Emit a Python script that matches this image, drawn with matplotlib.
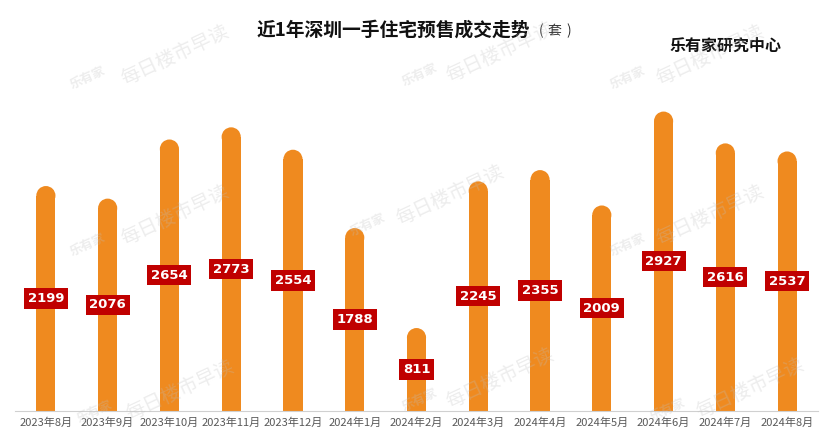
import numpy as np
import matplotlib.pyplot as plt
from matplotlib.patches import Ellipse

plt.rcParams['font.family'] = ['Noto Sans CJK SC', 'DejaVu Sans']

months = ['2023年8月', '2023年9月', '2023年10月', '2023年11月', '2023年12月',
          '2024年1月', '2024年2月', '2024年3月', '2024年4月', '2024年5月',
          '2024年6月', '2024年7月', '2024年8月']
sales = [2199, 2076, 2654, 2773, 2554, 1788, 811, 2245, 2355, 2009, 2927, 2616, 2537]

bar_color = '#EF8A1F'
label_color = '#C00000'

W, H = 834, 442
fig = plt.figure(figsize=(W / 100, H / 100), dpi=100)
ax = fig.add_axes([15 / W, (H - 411) / H, (818 - 15) / W, (411 - 60) / H])

x = np.arange(len(months))
bw = 0.31
ymax = 351 / 0.1023
ax.set_xlim(-0.5, len(months) - 0.5)
ax.set_ylim(0, ymax)

# size of the rounded cap in data units (radius in pixels -> y units)
px_per_y = ax.get_window_extent().height / ymax
px_per_x = ax.get_window_extent().width / len(months)
r_px = bw * px_per_x / 2
cap_h = r_px / px_per_y

ax.bar(x, np.array(sales) - cap_h, width=bw, color=bar_color, zorder=2)
for xi, v in zip(x, sales):
    ax.add_patch(Ellipse((xi, v - cap_h), bw, 2 * cap_h, color=bar_color,
                         zorder=2, lw=0))
    ax.text(xi, v / 2, str(v), ha='center', va='center', color='white',
            fontsize=9.5, fontweight='bold', family='DejaVu Sans', zorder=4,
            bbox=dict(boxstyle='square,pad=0.28', fc=label_color, ec='none'))

for s in ['top', 'right', 'left']:
    ax.spines[s].set_visible(False)
ax.spines['bottom'].set_color('#d0d0d0')
ax.set_yticks([])
ax.set_xticks(x)
ax.set_xticklabels(months, fontsize=8, color='#595959')
ax.tick_params(axis='x', length=0, pad=5)

fig.text(257 / W, 1 - 30 / H, '近1年深圳一手住宅预售成交走势', fontsize=13.5,
         fontweight='bold', va='center', ha='left', color='#111111')
# unit in small type, spaced like full-width brackets
for px, ch in [(541, '('), (554, '套'), (569, ')')]:
    fig.text(px / W, 1 - 31 / H, ch, fontsize=10, va='center', ha='center',
             color='#333333')
fig.text(726 / W, 1 - 46 / H, '乐有家研究中心', fontsize=11.5, fontweight='bold',
         va='center', ha='center', color='#111111')

# faint watermarks
wm = (0.75, 0.75, 0.75, 0.28)
for (lx, ly), (tx, ty) in [((88, 78), (175, 55)), ((420, 75), (500, 52)),
                           ((628, 78), (710, 55)), ((88, 245), (175, 215)),
                           ((368, 225), (450, 195)), ((628, 245), (710, 215)),
                           ((95, 412), (180, 390)), ((420, 400), (500, 378)),
                           ((668, 410), (750, 388))]:
    fig.text(lx / W, 1 - ly / H, '乐有家', fontsize=9, color=wm, rotation=25,
             ha='center', va='center', fontweight='bold', zorder=5)
    fig.text(tx / W, 1 - ty / H, '每日楼市早读', fontsize=14, color=wm,
             rotation=25, ha='center', va='center', zorder=5)

fig.savefig('out.png', dpi=100)
